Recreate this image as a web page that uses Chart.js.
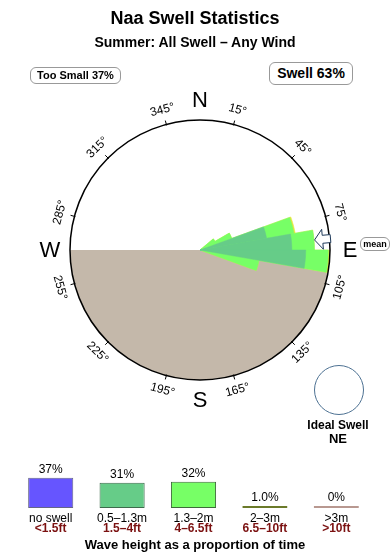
<!DOCTYPE html>
<html>
<head>
<meta charset="utf-8">
<script src="https://cdn.jsdelivr.net/npm/chart.js@4.4.1/dist/chart.umd.min.js"></script>
<style>
  body { margin:0; width:390px; height:560px; background:#fff; position:relative; overflow:hidden;
         font-family:"Liberation Sans", Arial, Helvetica, sans-serif; color:#000; }
  canvas { position:absolute; }
  #rose { left:0; top:0; }
  #bars { left:15px; top:455px; }
  .t { position:absolute; left:0; width:390px; text-align:center; font-weight:bold; }
  .pill { position:absolute; border:1px solid #999; border-radius:6px; font-weight:bold;
          text-align:center; box-sizing:border-box; background:#fff; }
  #ideal { position:absolute; left:314px; top:365px; width:50px; height:50px; border:1px solid #4d7192;
           border-radius:50%; box-sizing:border-box; }
</style>
</head>
<body>
<canvas id="rose" width="390" height="420"></canvas>
<canvas id="bars" width="357" height="85"></canvas>

<div class="t" style="top:8px;font-size:18px;line-height:20px">Naa Swell Statistics</div>
<div class="t" style="top:33px;font-size:14px;line-height:18px">Summer: All Swell – Any Wind</div>
<div class="pill" style="left:30px;top:67px;width:91px;height:17px;font-size:11px;line-height:15px">Too Small 37%</div>
<div class="pill" style="left:269px;top:62px;width:84px;height:23px;font-size:14px;line-height:21px">Swell 63%</div>
<div class="pill" style="left:360px;top:237px;width:30px;height:14px;font-size:9px;line-height:12px">mean</div>
<div id="ideal"></div>
<div class="t" style="left:288px;width:100px;top:418px;font-size:12px;line-height:14px">Ideal Swell</div>
<div class="t" style="left:288px;width:100px;top:431px;font-size:13px;line-height:15px">NE</div>
<div class="t" style="top:537px;font-size:13px;line-height:16px">Wave height as a proportion of time</div>

<script>
// swell rose: 10 degree bins, values in % of time (circle = 15%)
const binStarts = [50, 60, 70, 80, 90, 100];
const swellSmall = [0, 0, 7.8, 10.6, 12.2, 0];     // 0.5-1.3m
const swellMid = [2.0, 3.9, 3.2, 2.6, 2.6, 6.9];    // 1.3-2m
const swellBig = [0, 0, 0.15, 0, 0.15, 0];          // 2-3m
const roseMax = 15;
const meanDir = 85;

// land sector (degrees): open sea, land, open sea
const landAngles = [100, 170, 90];
const landValues = [0, roseMax, 0];

const compass = ['N', 'E', 'S', 'W'];
const degreeTicks = [15, 45, 75, 105, 135, 165, 195, 225, 255, 285, 315, 345];

// legend bars
const heightClasses = ['no swell', '0.5–1.3m', '1.3–2m', '2–3m', '>3m'];
const heightFeet = ['<1.5ft', '1.5–4ft', '4–6.5ft', '6.5–10ft', '>10ft'];
const heightShare = [37, 31, 32, 1.0, 0];

const colSmall = '#66cc88', colMid = '#77ff66', colBig = '#e6e63c', colLand = '#c4b8aa';

function fullBins(vals) {
  const a = new Array(36).fill(0);
  binStarts.forEach((b, i) => { a[b / 10] = vals[i]; });
  return a;
}
const dirLabels = Array.from({length: 36}, (_, i) => (i * 10) + '°');
const cumSmall = fullBins(swellSmall);
const midBins = fullBins(swellMid);
const bigBins = fullBins(swellBig);
const cumMid = cumSmall.map((v, i) => v + midBins[i]);
const cumBig = cumMid.map((v, i) => v + bigBins[i]);

const roseDecor = {
  id: 'roseDecor',
  afterDraw(chart) {
    const s = chart.scales.r;
    const cx = s.xCenter, cy = s.yCenter, R = s.drawingArea;
    const ctx = chart.ctx;
    const pt = (r, deg) => {
      const a = (deg - 90) * Math.PI / 180;
      return [cx + r * Math.cos(a), cy + r * Math.sin(a)];
    };
    ctx.save();
    // tick marks + degree labels
    ctx.strokeStyle = '#000';
    ctx.lineWidth = 1;
    ctx.fillStyle = '#000';
    ctx.font = '12px "Liberation Sans", Arial, sans-serif';
    ctx.textAlign = 'center';
    ctx.textBaseline = 'middle';
    degreeTicks.forEach(d => {
      const [x1, y1] = pt(R - 1, d), [x2, y2] = pt(R + 4, d);
      ctx.beginPath(); ctx.moveTo(x1, y1); ctx.lineTo(x2, y2); ctx.stroke();
      const [lx, ly] = pt(R + 15, d);
      const rot = (d > 90 && d < 270) ? d - 180 : d;
      ctx.save();
      ctx.translate(lx, ly);
      ctx.rotate(rot * Math.PI / 180);
      ctx.fillText(d + '°', 0, 0);
      ctx.restore();
    });
    // compass letters
    ctx.font = '22px "Liberation Sans", Arial, sans-serif';
    compass.forEach((c, i) => {
      const [x, y] = pt(R + 20, i * 90);
      ctx.fillText(c, x, y + 1);
    });
    // mean direction arrow
    const a = (meanDir - 90) * Math.PI / 180;
    const ux = Math.cos(a), uy = Math.sin(a), vx = -uy, vy = ux;
    const P = (r, w) => [cx + ux * r + vx * w, cy + uy * r + vy * w];
    const shape = [P(R - 15, 0), P(R - 7, 10), P(R - 7, 4), P(R + 1, 4), P(R + 1, -4), P(R - 7, -4), P(R - 7, -10)];
    ctx.beginPath();
    shape.forEach(([x, y], i) => i ? ctx.lineTo(x, y) : ctx.moveTo(x, y));
    ctx.closePath();
    ctx.fillStyle = '#fff';
    ctx.fill();
    ctx.strokeStyle = '#1f3a5a';
    ctx.stroke();
    ctx.restore();
  }
};

new Chart(document.getElementById('rose'), {
  type: 'polarArea',
  data: {
    labels: dirLabels,
    datasets: [
      { label: '0.5–1.3m', data: cumSmall, backgroundColor: colSmall, borderColor: colSmall, borderWidth: 0.5, order: 1 },
      { label: '1.3–2m', data: cumMid, backgroundColor: colMid, borderColor: colMid, borderWidth: 0.5, order: 2 },
      { label: '2–3m', data: cumBig, backgroundColor: colBig, borderColor: colBig, borderWidth: 0.5, order: 3 },
      { label: 'land', data: landValues, angle: c => landAngles[c.dataIndex], backgroundColor: colLand, borderWidth: 0, order: 4 }
    ]
  },
  options: {
    responsive: false,
    animation: false,
    layout: { padding: { left: 70, top: 120, right: 60, bottom: 40 } },
    plugins: { legend: { display: false }, tooltip: { enabled: false } },
    scales: {
      r: {
        min: 0, max: roseMax, startAngle: 0,
        ticks: { display: false, stepSize: roseMax },
        grid: { circular: true, color: '#000', lineWidth: 1.5, z: 1 },
        angleLines: { display: false },
        pointLabels: { display: false }
      }
    }
  },
  plugins: [roseDecor]
});

const barText = {
  id: 'barText',
  afterDraw(chart) {
    const ctx = chart.ctx;
    const bars = chart.getDatasetMeta(0).data;
    ctx.save();
    ctx.textAlign = 'center';
    bars.forEach((b, i) => {
      const v = heightShare[i];
      const txt = (v === 0 ? '0' : v < 10 ? v.toFixed(1) : String(v)) + '%';
      ctx.fillStyle = '#000';
      ctx.font = '12px "Liberation Sans", Arial, sans-serif';
      ctx.textBaseline = 'bottom';
      ctx.fillText(txt, b.x, b.y - 2);
      ctx.textBaseline = 'middle';
      ctx.fillText(heightClasses[i], b.x, 63.5);
      ctx.fillStyle = '#7b1111';
      ctx.font = 'bold 12px "Liberation Sans", Arial, sans-serif';
      ctx.fillText(heightFeet[i], b.x, 73.5);
    });
    ctx.restore();
  }
};

new Chart(document.getElementById('bars'), {
  type: 'bar',
  data: {
    labels: heightClasses,
    datasets: [{
      data: heightShare,
      backgroundColor: ['#6655ff', colSmall, colMid, colBig, '#d4aaa2'],
      borderColor: ['#666688', '#3d6b4c', '#3d6b3a', '#6b7a2a', '#b89890'],
      borderWidth: 1,
      borderSkipped: false,
      minBarLength: 2,
      barPercentage: 0.632,
      categoryPercentage: 1
    }]
  },
  options: {
    responsive: false,
    animation: false,
    layout: { padding: { top: 4, bottom: 32, left: 0, right: 0 } },
    plugins: { legend: { display: false }, tooltip: { enabled: false } },
    scales: {
      x: { display: false },
      y: { display: false, min: 0, max: 60 }
    }
  },
  plugins: [barText]
});
</script>
</body>
</html>
